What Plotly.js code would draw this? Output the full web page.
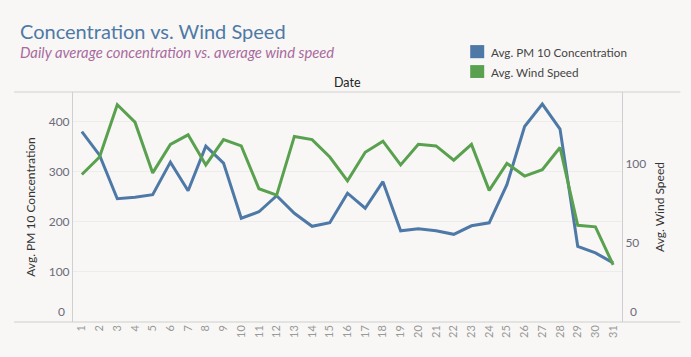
<!DOCTYPE html>
<html><head><meta charset="utf-8">
<script src="https://cdn.plot.ly/plotly-3.0.1.min.js"></script>
<style>html,body{margin:0;padding:0;background:#f8f7f5;}#c{width:691px;height:357px;}</style>
</head><body><div id="c"></div>
<script>
const days = Array.from({length:31},(_,i)=>String(i+1));
const pm10 = [380,333,246,249,254,319,262,351,317,207,220,252,217,191,198,257,227,280,182,186,182,175,192,198,274,390,435,385,151,138,118];
const wind = [93,104,137,126,94,112,118,99,115,111,84,80,117,115,104,89,107,114,99,112,111,102,112,83,100,92,96,110,61,60,36];
const leftTicks = [100,200,300,400];
const rightTicks = [50,100];

const fontFam = 'Lato, "Open Sans", sans-serif';
const blue = '#4e79a7', green = '#59a14f';

const traces = [
  {x: days, y: pm10, type:'scatter', mode:'lines', name:'Avg. PM 10 Concentration',
   line:{color:blue, width:3}, yaxis:'y', showlegend:false},
  {x: days, y: wind, type:'scatter', mode:'lines', name:'Avg. Wind Speed',
   line:{color:green, width:3}, yaxis:'y2', showlegend:false}
];

const layout = {
  width:691, height:357,
  paper_bgcolor:'#f8f7f5', plot_bgcolor:'#f8f7f5',
  margin:{l:73, r:69, t:92, b:35},
  font:{family:fontFam, color:'#666', size:12},
  xaxis:{type:'category', range:[-0.5,30.5], tickangle:-90, tickfont:{size:11, color:'#999'},
    showgrid:false, zeroline:false, showline:false, ticks:'', fixedrange:true},
  yaxis:{range:[0,459], tickvals:leftTicks, ticktext:leftTicks.map(String), showgrid:true, gridcolor:'#ececec',
    zeroline:false, showline:true, linecolor:'#cfcfcf', linewidth:1, ticks:'', tickfont:{size:12,color:'#6b6b7b'},
    title:{text:'Avg. PM 10 Concentration', font:{size:12,color:'#333'}, standoff:10}},
  yaxis2:{range:[0,145], overlaying:'y', side:'right', tickvals:rightTicks, ticktext:rightTicks.map(String),
    showgrid:false, zeroline:false, showline:true, linecolor:'#cfcfcf', linewidth:1, ticks:'',
    tickfont:{size:12,color:'#6b6b7b'},
    title:{text:'Avg. Wind Speed', font:{size:12,color:'#333'}, standoff:10}},
  shapes:[
    {type:'line', xref:'paper', yref:'paper', x0:-0.1075, x1:1.1063, y0:1, y1:1, line:{color:'#cfcfcf', width:1}},
    {type:'line', xref:'paper', yref:'paper', x0:-0.1075, x1:1.1063, y0:0, y1:0, line:{color:'#cfcfcf', width:1}},
    {type:'rect', xref:'paper', yref:'paper', x0:0.7235, x1:0.749, y0:1.147, y1:1.204, fillcolor:blue, line:{width:0}},
    {type:'rect', xref:'paper', yref:'paper', x0:0.7235, x1:0.749, y0:1.061, y1:1.117, fillcolor:green, line:{width:0}}
  ],
  annotations:[
    {text:'Concentration vs. Wind Speed', xref:'paper', yref:'paper', x:-0.1, y:1.265, xanchor:'left', yanchor:'middle',
     showarrow:false, font:{size:20, color:blue}},
    {text:'<i>Daily average concentration vs. average wind speed</i>', xref:'paper', yref:'paper', x:-0.1, y:1.174,
     xanchor:'left', yanchor:'middle', showarrow:false, font:{size:14.8, color:'#a96a9e'}},
    {text:'Date', xref:'paper', yref:'paper', x:0.5, y:1.04, xanchor:'center', yanchor:'middle', showarrow:false,
     font:{size:12.5, color:'#222'}},
    {text:'Avg. PM 10 Concentration', xref:'paper', yref:'paper', x:0.758, y:1.176, xanchor:'left', yanchor:'middle',
     showarrow:false, font:{size:11.7, color:'#444'}},
    {text:'Avg. Wind Speed', xref:'paper', yref:'paper', x:0.758, y:1.089, xanchor:'left', yanchor:'middle',
     showarrow:false, font:{size:11.7, color:'#444'}},
    {text:'0', xref:'paper', yref:'y', x:0, y:0, xanchor:'right', yanchor:'bottom', xshift:-6, yshift:1, showarrow:false,
     font:{size:12,color:'#6b6b7b'}},
    {text:'0', xref:'paper', yref:'y', x:1, y:0, xanchor:'left', yanchor:'bottom', xshift:6, yshift:1, showarrow:false,
     font:{size:12,color:'#6b6b7b'}}
  ]
};
Plotly.newPlot('c', traces, layout, {displayModeBar:false, staticPlot:true});
</script></body></html>
